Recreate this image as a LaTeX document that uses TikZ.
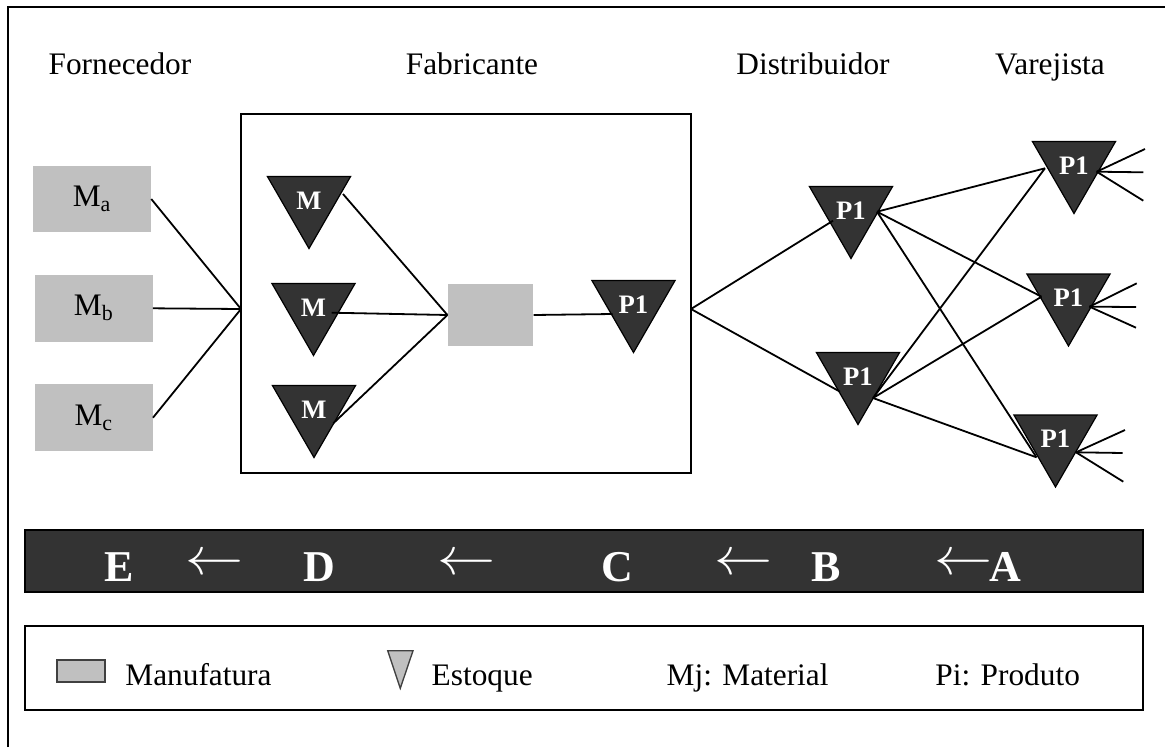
\documentclass[tikz,border=0pt]{standalone}
\usepackage{fontspec}
\setmainfont{Liberation Serif}
\usetikzlibrary{shapes.geometric,calc}
\definecolor{darkstock}{HTML}{333333}
\definecolor{mfggray}{HTML}{C0C0C0}
\newcommand{\flowleft}{\scalebox{1.75}[1.6]{$\leftarrow$}}
\begin{document}
\begin{tikzpicture}[x=0.75pt,y=-0.75pt,
  every node/.style={font=\fontsize{23.5}{28}\selectfont},
  wire/.style={line width=1.35pt},
  boxline/.style={line width=1.4pt},
  plant/.style={fill=mfggray, minimum width=88.5pt, minimum height=50pt, inner sep=0pt},
  stocktri/.style={regular polygon, regular polygon sides=3, shape border rotate=180,
    minimum size=72pt, inner sep=0pt, fill=darkstock, draw=black, line width=0.9pt,
    text=white, font=\bfseries\fontsize{20}{24}\selectfont},
  flowtext/.style={text=white, font=\bfseries\fontsize{33}{38}\selectfont, anchor=base},
  flowarrow/.style={text=white, font=\fontsize{24.88}{30}\selectfont, anchor=center},
  legendtext/.style={anchor=base west},
  ]
\useasboundingbox (0,0) rectangle (1165,747);

% outer frame (open to the right and bottom)
\draw[boxline] (8,747) -- (8,7) -- (1165,7);

% column headings
\node[anchor=base] (hforn) at (120,74) {Fornecedor};
\node[anchor=base] (hfab)  at (472,74) {Fabricante};
\node[anchor=base] (hdist) at (813,74) {Distribuidor};
\node[anchor=base] (hvar)  at (1050,74) {Varejista};

% suppliers
\node[plant] (ma) at (92,199)    {M\textsubscript{a}};
\node[plant] (mb) at (93.7,308.3) {M\textsubscript{b}};
\node[plant] (mc) at (93.7,417.7) {M\textsubscript{c}};

% manufacturer
\node[draw, boxline, minimum width=337.5pt, minimum height=269.25pt, inner sep=0pt] (fab) at (466,293.5) {};
\coordinate (jin)  at (241,309);
\coordinate (jout) at (691,309);

\node[stocktri] (m1) at (309,200.5)   {M};
\node[stocktri] (m2) at (313.5,307.5) {M};
\node[stocktri] (m3) at (314,409.5)   {M};
\node[plant, minimum width=64.2pt, minimum height=46pt] (mf) at (490.5,315) {};
\node[stocktri] (pf) at (633.5,304.5) {P1};

% distributors and retailers
\node[stocktri] (d1) at (851,210.5)    {P1};
\node[stocktri] (d2) at (858,376.5)    {P1};
\node[stocktri] (r1) at (1074,165.5)   {P1};
\node[stocktri] (r2) at (1068.5,298)   {P1};
\node[stocktri] (r3) at (1055.5,439)   {P1};

% supplier links
\draw[wire] (ma.east) -- (jin);
\draw[wire] (mb.east) -- (jin);
\draw[wire] (mc.east) -- (jin);

% inside the plant
\draw[wire] ($(m1)+(34,-6.5)$)  -- (mf.west);
\draw[wire] ($(m2)+(18.2,5.2)$) -- (mf.west);
\draw[wire] ($(m3)+(19.3,13.8)$) -- (mf.west);
\draw[wire] (mf.east) -- ($(pf)+(-21,9.5)$);

% plant to distributors
\draw[wire] (jout) -- ($(d1)+(-18,10.2)$);
\draw[wire] (jout) -- ($(d2)+(-18,15.2)$);

% distributors to retailers
\coordinate (d1o) at ($(d1)+(26,1.2)$);
\coordinate (d2o) at ($(d2)+(15,21.5)$);
\coordinate (r1i) at ($(r1)+(-29,2.8)$);
\coordinate (r2i) at ($(r2)+(-27,-1.3)$);
\coordinate (r3i) at ($(r3)+(-19,18.3)$);
\foreach \src in {d1o,d2o}
  \foreach \dst in {r1i,r2i,r3i}
    \draw[wire] (\src) -- (\dst);

% retailer fans towards customers
\coordinate (r1o) at ($(r1)+(22.7,6.2)$);
\coordinate (r2o) at ($(r2)+(21,8.7)$);
\coordinate (r3o) at ($(r3)+(20.5,13.3)$);
\coordinate (r1a) at (1145,149);   \coordinate (r1b) at (1143.3,172.3); \coordinate (r1c) at (1143.3,200.7);
\coordinate (r2a) at (1136.7,283.3); \coordinate (r2b) at (1136,307);   \coordinate (r2c) at (1136,327.7);
\coordinate (r3a) at (1125,430);   \coordinate (r3b) at (1122.7,453);   \coordinate (r3c) at (1123.3,481.7);
\foreach \r in {r1,r2,r3}
  \foreach \e in {a,b,c}
    \draw[wire] (\r o) -- (\r\e);

% flow bar
\node[draw=black, fill=darkstock, line width=0.8pt, minimum width=838.5pt, minimum height=46.5pt, inner sep=0pt] (bar) at (584,561) {};
\node[flowtext] (fe) at (119,581.7) {E};
\node[flowarrow] (fa1) at (215,565) {\flowleft};
\node[flowtext] (fd) at (319,581.7) {D};
\node[flowarrow] (fa2) at (467,565) {\flowleft};
\node[flowtext] (fc) at (617,581.7) {C};
\node[flowarrow] (fa3) at (743.5,565) {\flowleft};
\node[flowtext] (fb) at (826.5,581.7) {B};
\node[flowarrow] (fa4) at (964,565) {\flowleft};
\node[flowtext] (fl) at (1005,581.7) {A};

% legend
\node[draw=black, line width=1.1pt, minimum width=838.5pt, minimum height=63pt, inner sep=0pt] (legend) at (584,668) {};
\node[fill=mfggray, draw=black!75, line width=1pt, minimum width=36pt, minimum height=16.3pt, inner sep=0pt] (swmfg) at (81,671) {};
\node[legendtext] (lmfg) at (120.7,685) {Manufatura};
\filldraw[fill=mfggray, draw=black!75, line width=1pt] (387.7,650.7) -- (413,650.7) -- (400.3,688.3) -- cycle;
\node[legendtext] (lstk) at (427,685) {Estoque};
\node[legendtext] (lmat) at (662,685) {Mj: Material};
\node[legendtext] (lprd) at (930.7,685) {Pi: Produto};
\end{tikzpicture}
\end{document}
